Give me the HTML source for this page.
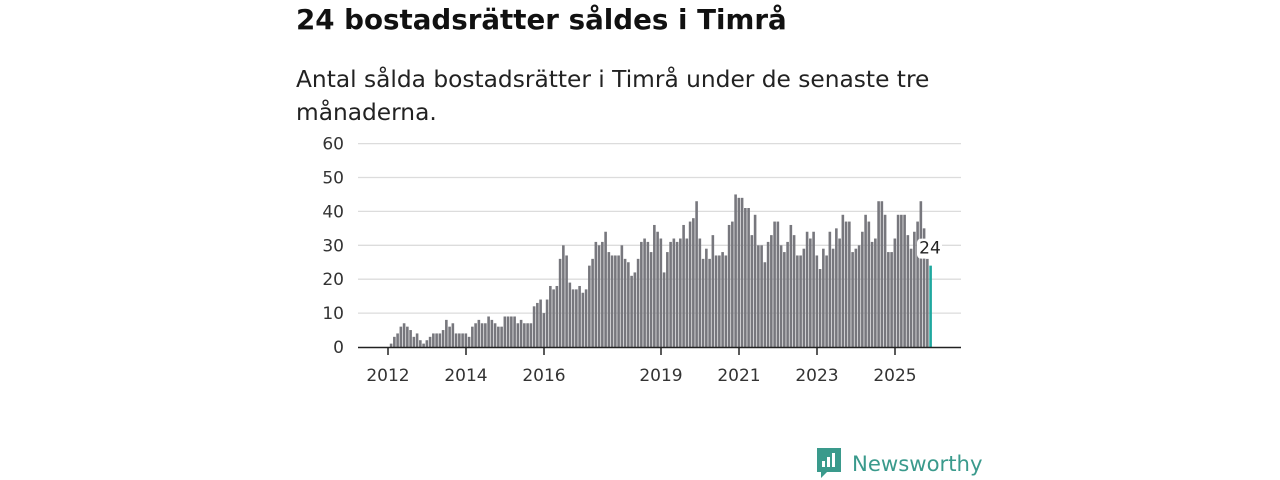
<!DOCTYPE html>
<html><head><meta charset="utf-8"><style>
body{margin:0;width:1280px;height:480px;background:#fff;font-family:"DejaVu Sans","Liberation Sans",sans-serif;overflow:hidden;position:relative}
h1{position:absolute;left:296px;top:3px;margin:0;font-size:27.7px;font-weight:bold;color:#111}
p{position:absolute;left:296px;top:63px;margin:0;font-size:23.3px;line-height:33px;color:#222;width:700px}
</style></head><body>
<h1>24 bostadsrätter såldes i Timrå</h1>
<p>Antal sålda bostadsrätter i Timrå under de senaste tre<br>månaderna.</p>
<svg id="c" width="1280" height="480" style="position:absolute;left:0;top:0"></svg>
<div style="position:absolute;left:815px;top:446px;display:flex;align-items:center">
<svg width="28" height="34"><path d="M2 2h24v24H12l-6 6v-6H2z" fill="#3a9a8c"/><rect x="7" y="15" width="3" height="6" fill="#fff"/><rect x="12" y="11" width="3" height="10" fill="#fff"/><rect x="17" y="7" width="3" height="14" fill="#fff"/></svg>
<span style="font-size:21.2px;color:#3a9a8c;margin-left:9px">Newsworthy</span></div>
<script>
const values=[1,3,4,6,7,6,5,3,4,2,1,2,
3,4,4,4,5,8,6,7,4,4,4,4,
3,6,7,8,7,7,9,8,7,6,6,9,
9,9,9,7,8,7,7,7,12,13,14,10,
14,18,17,18,26,30,27,19,17,17,18,16,
17,24,26,31,30,31,34,28,27,27,27,30,
26,25,21,22,26,31,32,31,28,36,34,32,
22,28,31,32,31,32,36,32,37,38,43,32,
26,29,26,33,27,27,28,27,36,37,45,44,
44,41,41,33,39,30,30,25,31,33,37,37,
30,28,31,36,33,27,27,29,34,32,34,27,
23,29,27,34,29,35,32,39,37,37,28,29,
30,34,39,37,31,32,43,43,39,28,28,32,
39,39,39,33,29,34,37,43,35,26,24];
const yTicks=[0,10,20,30,40,50,60];
const xYears=[2012,2014,2016,2019,2021,2023,2025];
const NS="http://www.w3.org/2000/svg",svg=document.getElementById('c');
const y=v=>347-v*3.39;
const xm=i=>389.5+i*3.25;
function el(t,a){const e=document.createElementNS(NS,t);for(const k in a)e.setAttribute(k,a[k]);svg.appendChild(e);return e;}
yTicks.forEach(t=>{
 if(t>0){const g=el('line',{x1:358,x2:961,y1:y(t),y2:y(t),stroke:'#dcdcdc','stroke-width':1.3});
 
 }
 const tx=el('text',{x:344,y:y(t)+6,'text-anchor':'end','font-size':17,fill:'#333'});tx.textContent=t;
 
 
});
values.forEach((v,i)=>{
 const last=i===values.length-1;
 const r=el('rect',{x:xm(i)+0.3,y:y(v),width:2.6,height:v*3.39,fill:last?'#1fa89f':'#77777d'});
 
 
});
const ax=el('line',{x1:358,x2:961,y1:347.5,y2:347.5,stroke:'#222','stroke-width':1.6});


xYears.forEach(yr=>{
 const x=388+(yr-2012)*39;
 const tk=el('line',{x1:x,x2:x,y1:348,y2:355,stroke:'#222','stroke-width':1.5});
 
 
 const t=el('text',{x:x,y:381,'text-anchor':'middle','font-size':17,fill:'#333'});t.textContent=yr;
 
 
});
const li=values.length-1,lv=values[li];
const bx=el('rect',{x:xm(li)-12,y:y(lv)-27,width:25,height:20,rx:4,fill:'#fff'});


const lt=el('text',{x:xm(li)+1,y:y(lv)-12,'text-anchor':'middle','font-size':17,fill:'#222'});lt.textContent=lv;


</script>
</body></html>
